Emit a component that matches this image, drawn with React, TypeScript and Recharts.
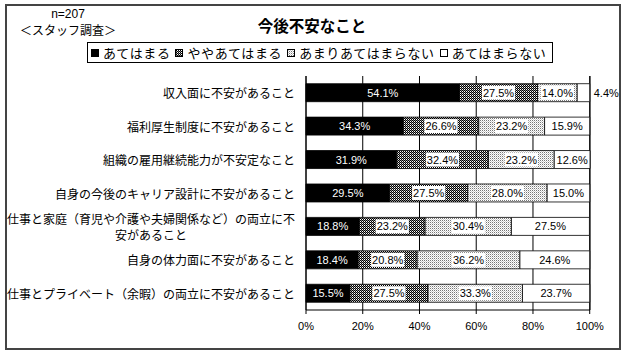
import React from "react";
import { BarChart, Bar, XAxis, YAxis, CartesianGrid, LabelList } from "recharts";

const categories = [
  "収入面に不安があること",
  "福利厚生制度に不安があること",
  "組織の雇用継続能力が不安定なこと",
  "自身の今後のキャリア設計に不安があること",
  "仕事と家庭（育児や介護や夫婦関係など）の両立に不安があること",
  "自身の体力面に不安があること",
  "仕事とプライベート（余暇）の両立に不安があること",
];

const seriesNames = ["あてはまる", "ややあてはまる", "あまりあてはまらない", "あてはまらない"];
const applies = [54.1, 34.3, 31.9, 29.5, 18.8, 18.4, 15.5];
const somewhatApplies = [27.5, 26.6, 32.4, 27.5, 23.2, 20.8, 27.5];
const notReally = [14.0, 23.2, 23.2, 28.0, 30.4, 36.2, 33.3];
const notAtAll = [4.4, 15.9, 12.6, 15.0, 27.5, 24.6, 23.7];
const xTicks = [0, 20, 40, 60, 80, 100];

const data = categories.map((name, i) => ({
  name,
  a: applies[i],
  b: somewhatApplies[i],
  c: notReally[i],
  d: notAtAll[i],
}));

const fills = ["#000", "url(#pat-dark)", "url(#pat-light)", "#fff"];
const JP = "'Noto Sans CJK JP', 'Noto Sans', sans-serif";
const NUM = "'Liberation Sans', Arial, sans-serif";

// wrap long category names like Excel does (24 chars per line)
const wrap = (s: string, max = 24) => {
  const out: string[] = [];
  for (let i = 0; i < s.length; i += max) out.push(s.slice(i, i + max));
  return out;
};

const CatTick = (props: any) => {
  const { x, y, payload } = props;
  const lines = wrap(String(payload.value));
  if (lines.length === 1) {
    return (
      <text x={x} y={y} textAnchor="end" dominantBaseline="central" fontSize={12} fontFamily={JP} fill="#000">
        {lines[0]}
      </text>
    );
  }
  const w = Math.max(...lines.map((l) => l.length)) * 12;
  const cx = x - w / 2;
  return (
    <text textAnchor="middle" fontSize={12} fontFamily={JP} fill="#000">
      {lines.map((l, i) => (
        <tspan key={i} x={cx} y={y + (i - (lines.length - 1) / 2) * 16} dominantBaseline="central">
          {l}
        </tspan>
      ))}
    </text>
  );
};

const textW = (t: string) => {
  let w = 0;
  for (const ch of t) w += ch === "." ? 3.1 : ch === "%" ? 9.8 : 6.1;
  return w;
};

const renderLabel = (p: any, kind: number) => {
  const { x, y, width, height, value } = p;
  const text = `${Number(value).toFixed(1)}%`;
  const cy = y + height / 2;
  if (kind === 3 && width < 20) {
    return (
      <text x={x + width + 4} y={cy} dominantBaseline="central" fontSize={11} fontFamily={NUM} fill="#000">
        {text}
      </text>
    );
  }
  const cx = x + width / 2;
  const tw = textW(text);
  return (
    <g>
      {(kind === 1 || kind === 2) && (
        <rect x={cx - tw / 2 - 1} y={cy - 7} width={tw + 2} height={14} fill="#fff" />
      )}
      <text
        x={cx}
        y={cy}
        textAnchor="middle"
        dominantBaseline="central"
        fontSize={11}
        fontFamily={NUM}
        fill={kind === 0 ? "#fff" : "#000"}
      >
        {text}
      </text>
    </g>
  );
};

const Swatch = ({ fill }: { fill: string }) => (
  <svg width={8} height={8} style={{ marginRight: 4, flex: "none" }}>
    <rect x={0.5} y={0.5} width={7} height={7} fill={fill} stroke="#000" strokeWidth={1} />
  </svg>
);

export default function App() {
  const keys = ["a", "b", "c", "d"];
  return (
    <div style={{ position: "absolute", left: 0, top: 0, width: 628, height: 356, background: "#fff", fontFamily: JP }}>
      <svg width={0} height={0} style={{ position: "absolute" }}>
        <defs>
          <pattern id="pat-dark" width={2} height={2} patternUnits="userSpaceOnUse">
            <rect width={2} height={2} fill="#888" />
            <rect width={1} height={1} fill="#000" />
            <rect x={1} y={1} width={1} height={1} fill="#000" />
            <rect x={0} y={1} width={1} height={1} fill="#fff" />
          </pattern>
          <pattern id="pat-light" width={2} height={2} patternUnits="userSpaceOnUse">
            <rect width={2} height={2} fill="#fff" />
            <rect width={1} height={1} fill="#777" />
            <rect x={1} y={1} width={1} height={1} fill="#ccc" />
          </pattern>
        </defs>
      </svg>

      {/* outer frame */}
      <div
        style={{
          position: "absolute",
          left: 5,
          top: 4,
          width: 616,
          height: 346,
          border: "2px solid #444",
          boxSizing: "border-box",
        }}
      />

      <div style={{ position: "absolute", left: 0, top: 0 }}>
        <BarChart
          width={628}
          height={356}
          data={data}
          layout="vertical"
          margin={{ top: 76, right: 38, bottom: 16, left: 6 }}
          barCategoryGap="23%"
        >
          <CartesianGrid horizontal={false} vertical stroke="#000" strokeWidth={1} />
          <XAxis
            type="number"
            domain={[0, 100]}
            ticks={xTicks}
            tickFormatter={(v) => `${v}%`}
            axisLine={{ stroke: "#000" }}
            tickLine={{ stroke: "#000" }}
            tickSize={4}
            tickMargin={8}
            tick={{ fontSize: 11, fontFamily: NUM, fill: "#000" }}
            interval={0}
            height={30}
          />
          <XAxis
            xAxisId="top"
            orientation="top"
            type="number"
            domain={[0, 100]}
            ticks={xTicks}
            tick={false}
            tickLine={false}
            height={0}
            axisLine={{ stroke: "#000" }}
          />
          <YAxis
            type="category"
            dataKey="name"
            width={300}
            axisLine={{ stroke: "#000" }}
            tickLine={false}
            tickSize={0}
            tickMargin={11}
            tick={CatTick}
            interval={0}
          />
          {keys.map((k, i) => (
            <Bar
              key={k}
              dataKey={k}
              name={seriesNames[i]}
              stackId="s"
              fill={fills[i]}
              stroke="#000"
              strokeWidth={0.8}
              isAnimationActive={false}
            >
              <LabelList dataKey={k} content={(p: any) => renderLabel(p, i)} />
            </Bar>
          ))}
        </BarChart>
      </div>

      {/* header texts */}
      <svg width={628} height={60} style={{ position: "absolute", left: 0, top: 0, pointerEvents: "none" }}>
        <text x={68} y={14} textAnchor="middle" dominantBaseline="central" fontSize={12} fontFamily={NUM} fill="#000">
          n=207
        </text>
        <text x={20} y={29} dominantBaseline="central" fontSize={12} fontFamily={JP} fill="#000">
          ＜スタッフ調査＞
        </text>
        <text x={312} y={25} textAnchor="middle" dominantBaseline="central" fontSize={15.5} fontWeight="bold" fontFamily={JP} fill="#000">
          今後不安なこと
        </text>
      </svg>

      {/* legend */}
      <div
        style={{
          position: "absolute",
          left: 87,
          top: 42,
          width: 466,
          height: 21,
          border: "1px solid #000",
          boxSizing: "border-box",
          display: "flex",
          alignItems: "center",
          paddingLeft: 3,
          fontSize: 13,
          letterSpacing: 0.6,
          lineHeight: "19px",
          whiteSpace: "nowrap",
          color: "#000",
        }}
      >
        {seriesNames.map((n, i) => (
          <span key={n} style={{ display: "flex", alignItems: "center", marginRight: 5 }}>
            <Swatch fill={fills[i]} />
            {n}
          </span>
        ))}
      </div>
    </div>
  );
}
